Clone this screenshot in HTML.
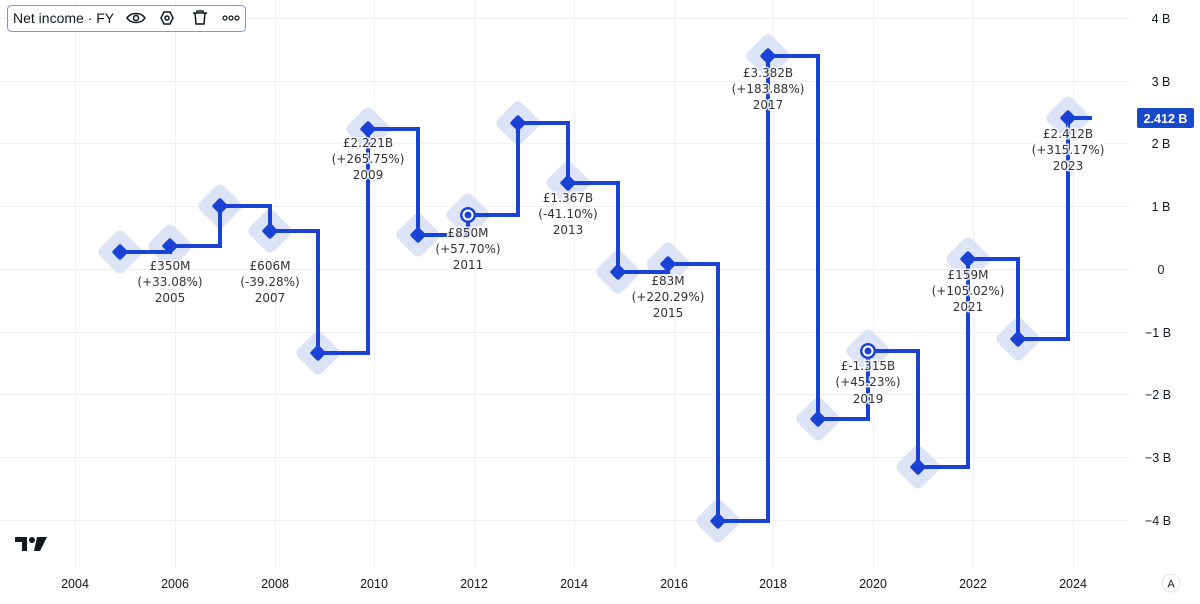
<!DOCTYPE html>
<html><head><meta charset="utf-8"><style>
body{margin:0;background:#fff;width:1200px;height:599px;overflow:hidden;font-family:"Liberation Sans",sans-serif}
</style></head><body>
<svg width="1200" height="599" viewBox="0 0 1200 599" xmlns="http://www.w3.org/2000/svg" font-family="Liberation Sans, sans-serif">
<g stroke="#f0f1f3" stroke-width="1">
<line x1="0" x2="1130" y1="18.5" y2="18.5"/><line x1="0" x2="1130" y1="81.5" y2="81.5"/><line x1="0" x2="1130" y1="143.5" y2="143.5"/><line x1="0" x2="1130" y1="206.5" y2="206.5"/><line x1="0" x2="1130" y1="269.5" y2="269.5"/><line x1="0" x2="1130" y1="332.5" y2="332.5"/><line x1="0" x2="1130" y1="394.5" y2="394.5"/><line x1="0" x2="1130" y1="457.5" y2="457.5"/><line x1="0" x2="1130" y1="520.5" y2="520.5"/>
<line y1="0" y2="570" x1="75.5" x2="75.5"/><line y1="0" y2="570" x1="175.5" x2="175.5"/><line y1="0" y2="570" x1="275.5" x2="275.5"/><line y1="0" y2="570" x1="374.5" x2="374.5"/><line y1="0" y2="570" x1="474.5" x2="474.5"/><line y1="0" y2="570" x1="574.5" x2="574.5"/><line y1="0" y2="570" x1="674.5" x2="674.5"/><line y1="0" y2="570" x1="773.5" x2="773.5"/><line y1="0" y2="570" x1="873.5" x2="873.5"/><line y1="0" y2="570" x1="973.5" x2="973.5"/><line y1="0" y2="570" x1="1073.5" x2="1073.5"/>
</g>
<g fill="#dde3f7">
<rect x="-17" y="-17" width="34" height="34" rx="6" transform="translate(120 252) rotate(45)"/>
<rect x="-17" y="-17" width="34" height="34" rx="6" transform="translate(170 246) rotate(45)"/>
<rect x="-17" y="-17" width="34" height="34" rx="6" transform="translate(220 206) rotate(45)"/>
<rect x="-17" y="-17" width="34" height="34" rx="6" transform="translate(270 231) rotate(45)"/>
<rect x="-17" y="-17" width="34" height="34" rx="6" transform="translate(318 353) rotate(45)"/>
<rect x="-17" y="-17" width="34" height="34" rx="6" transform="translate(368 129) rotate(45)"/>
<rect x="-17" y="-17" width="34" height="34" rx="6" transform="translate(418 235) rotate(45)"/>
<rect x="-17" y="-17" width="34" height="34" rx="6" transform="translate(468 215) rotate(45)"/>
<rect x="-17" y="-17" width="34" height="34" rx="6" transform="translate(518 123) rotate(45)"/>
<rect x="-17" y="-17" width="34" height="34" rx="6" transform="translate(568 183) rotate(45)"/>
<rect x="-17" y="-17" width="34" height="34" rx="6" transform="translate(618 272) rotate(45)"/>
<rect x="-17" y="-17" width="34" height="34" rx="6" transform="translate(668 264) rotate(45)"/>
<rect x="-17" y="-17" width="34" height="34" rx="6" transform="translate(718 521) rotate(45)"/>
<rect x="-17" y="-17" width="34" height="34" rx="6" transform="translate(768 56) rotate(45)"/>
<rect x="-17" y="-17" width="34" height="34" rx="6" transform="translate(818 419) rotate(45)"/>
<rect x="-17" y="-17" width="34" height="34" rx="6" transform="translate(868 351) rotate(45)"/>
<rect x="-17" y="-17" width="34" height="34" rx="6" transform="translate(918 467) rotate(45)"/>
<rect x="-17" y="-17" width="34" height="34" rx="6" transform="translate(968 259) rotate(45)"/>
<rect x="-17" y="-17" width="34" height="34" rx="6" transform="translate(1018 339) rotate(45)"/>
<rect x="-17" y="-17" width="34" height="34" rx="6" transform="translate(1068 118) rotate(45)"/>
</g>
<path d="M120 252 H170 V246 H220 V206 H270 V231 H318 V353 H368 V129 H418 V235 H468 V215 H518 V123 H568 V183 H618 V272 H668 V264 H718 V521 H768 V56 H818 V419 H868 V351 H918 V467 H968 V259 H1018 V339 H1068 V118 H1092" fill="none" stroke="#1a43d6" stroke-width="4"/>
<g fill="#1a43d6">
<rect x="-6" y="-6" width="12" height="12" rx="2" transform="translate(120 252) rotate(45)"/>
<rect x="-6" y="-6" width="12" height="12" rx="2" transform="translate(170 246) rotate(45)"/>
<rect x="-6" y="-6" width="12" height="12" rx="2" transform="translate(220 206) rotate(45)"/>
<rect x="-6" y="-6" width="12" height="12" rx="2" transform="translate(270 231) rotate(45)"/>
<rect x="-6" y="-6" width="12" height="12" rx="2" transform="translate(318 353) rotate(45)"/>
<rect x="-6" y="-6" width="12" height="12" rx="2" transform="translate(368 129) rotate(45)"/>
<rect x="-6" y="-6" width="12" height="12" rx="2" transform="translate(418 235) rotate(45)"/>
<rect x="-6" y="-6" width="12" height="12" rx="2" transform="translate(518 123) rotate(45)"/>
<rect x="-6" y="-6" width="12" height="12" rx="2" transform="translate(568 183) rotate(45)"/>
<rect x="-6" y="-6" width="12" height="12" rx="2" transform="translate(618 272) rotate(45)"/>
<rect x="-6" y="-6" width="12" height="12" rx="2" transform="translate(668 264) rotate(45)"/>
<rect x="-6" y="-6" width="12" height="12" rx="2" transform="translate(718 521) rotate(45)"/>
<rect x="-6" y="-6" width="12" height="12" rx="2" transform="translate(768 56) rotate(45)"/>
<rect x="-6" y="-6" width="12" height="12" rx="2" transform="translate(818 419) rotate(45)"/>
<rect x="-6" y="-6" width="12" height="12" rx="2" transform="translate(918 467) rotate(45)"/>
<rect x="-6" y="-6" width="12" height="12" rx="2" transform="translate(968 259) rotate(45)"/>
<rect x="-6" y="-6" width="12" height="12" rx="2" transform="translate(1018 339) rotate(45)"/>
<rect x="-6" y="-6" width="12" height="12" rx="2" transform="translate(1068 118) rotate(45)"/>
<circle cx="468" cy="215" r="8"/><circle cx="868" cy="351" r="8"/>
</g>
<g fill="#fff"><circle cx="468" cy="215" r="5.5"/><circle cx="868" cy="351" r="5.5"/></g>
<g fill="#1a43d6"><circle cx="468" cy="215" r="3.5"/><circle cx="868" cy="351" r="3.5"/></g>
<g font-family="DejaVu Sans, sans-serif" font-size="12" fill="#333" text-anchor="middle" stroke="#fff" stroke-width="3" stroke-opacity="0.85" paint-order="stroke">
<text x="170" y="270">£350M</text><text x="170" y="286">(+33.08%)</text><text x="170" y="302">2005</text>
<text x="270" y="270">£606M</text><text x="270" y="286">(-39.28%)</text><text x="270" y="302">2007</text>
<text x="368" y="147">£2.221B</text><text x="368" y="163">(+265.75%)</text><text x="368" y="179">2009</text>
<text x="468" y="237">£850M</text><text x="468" y="253">(+57.70%)</text><text x="468" y="269">2011</text>
<text x="568" y="202">£1.367B</text><text x="568" y="218">(-41.10%)</text><text x="568" y="234">2013</text>
<text x="668" y="285">£83M</text><text x="668" y="301">(+220.29%)</text><text x="668" y="317">2015</text>
<text x="768" y="77">£3.382B</text><text x="768" y="93">(+183.88%)</text><text x="768" y="109">2017</text>
<text x="868" y="370">£-1.315B</text><text x="868" y="386">(+45.23%)</text><text x="868" y="403">2019</text>
<text x="968" y="279">£159M</text><text x="968" y="295">(+105.02%)</text><text x="968" y="311">2021</text>
<text x="1068" y="138">£2.412B</text><text x="1068" y="154">(+315.17%)</text><text x="1068" y="170">2023</text>
</g>
<g font-size="12.5" fill="#131722" text-anchor="middle">
<text x="1161" y="23">4 B</text><text x="1161" y="86">3 B</text><text x="1161" y="148">2 B</text><text x="1161" y="211">1 B</text><text x="1161" y="274">0</text><text x="1158" y="337">−1 B</text><text x="1158" y="399">−2 B</text><text x="1158" y="462">−3 B</text><text x="1158" y="525">−4 B</text>
<text x="75" y="588">2004</text><text x="175" y="588">2006</text><text x="275" y="588">2008</text><text x="374" y="588">2010</text><text x="474" y="588">2012</text><text x="574" y="588">2014</text><text x="674" y="588">2016</text><text x="773" y="588">2018</text><text x="873" y="588">2020</text><text x="973" y="588">2022</text><text x="1073" y="588">2024</text>
</g>
<rect x="1137" y="108" width="57" height="20" rx="2" fill="#1848cc"/>
<text x="1165.5" y="123" font-size="12.5" font-weight="bold" fill="#fff" text-anchor="middle">2.412 B</text>
<circle cx="1171" cy="583" r="9" fill="#fff" stroke="#e0e3eb"/>
<text x="1171" y="587.5" font-size="11" fill="#131722" text-anchor="middle">A</text>
<g fill="#131722"><path d="M15 537h12v14h-5v-9h-7z"/><circle cx="32" cy="540" r="3"/><path d="M37 537h10l-7 14h-6z"/></g>
<rect x="7.5" y="5.5" width="238" height="26" rx="4" fill="#fff" stroke="#6f95f0"/>
<text x="13" y="23" font-size="14" fill="#131722">Net income · FY</text>
<g fill="none" stroke="#131722" stroke-width="1.5">
<path d="M127 18c4-6 14-6 18 0c-4 6-14 6-18 0z"/><circle cx="136" cy="18" r="2.5"/>
<path d="M164 12h6l3 6l-3 6h-6l-3-6z"/><circle cx="167" cy="18" r="2"/>
<path d="M193 13h14M197 13v-2h6v2M195 13l1 11h8l1-11"/>
</g>
<g fill="none" stroke="#131722" stroke-width="1.2"><circle cx="225" cy="18" r="2"/><circle cx="231" cy="18" r="2"/><circle cx="237" cy="18" r="2"/></g>
</svg>
</body></html>
